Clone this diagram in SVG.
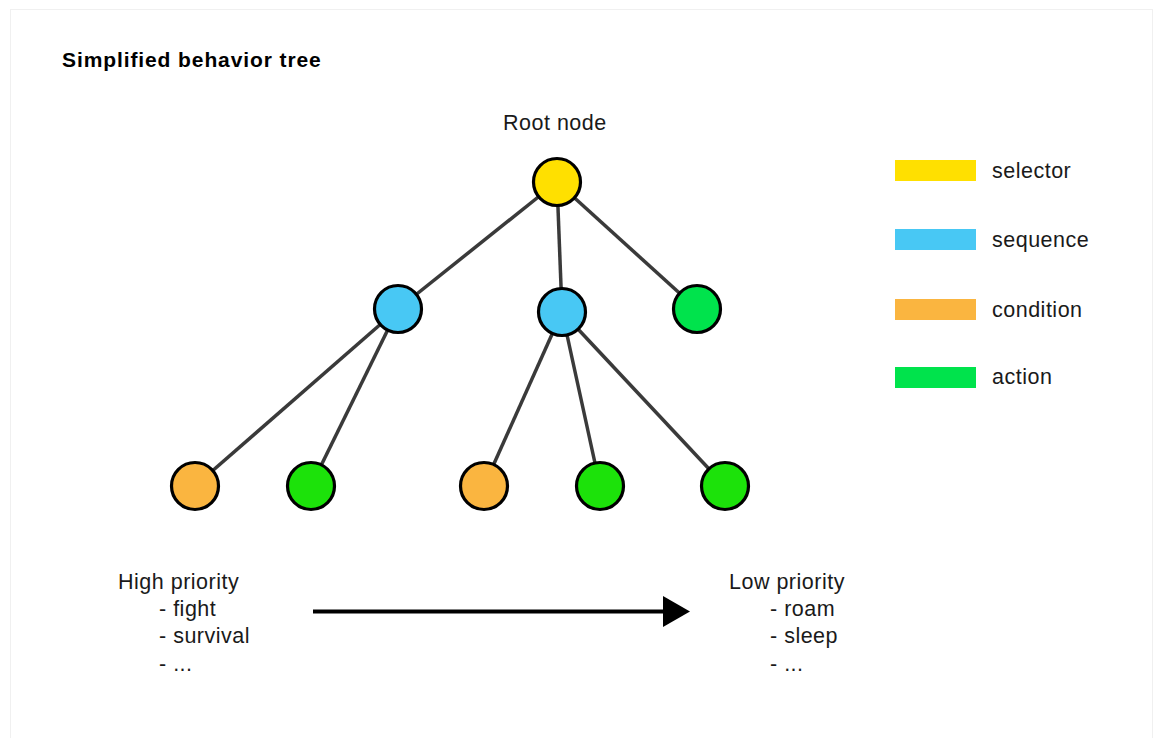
<svg xmlns="http://www.w3.org/2000/svg" width="1154" height="738" viewBox="0 0 1154 738">
<style>
text{font-family:"Liberation Sans",Arial,sans-serif;fill:#1a1a1a;font-size:21.5px;letter-spacing:0.5px}
.title{font-weight:bold;font-size:21px;letter-spacing:0.9px;fill:#000}
.n circle{stroke:#000;stroke-width:3.2}
.edge{stroke:#3a3a3a;stroke-width:3.5;fill:none}
.sel{fill:#ffe000}.seq{fill:#48c8f4}.cond{fill:#fab540}.act{fill:#00e34c}.act2{fill:#1ce20a}
</style>
<defs>
<marker id="ah" markerWidth="8" markerHeight="8" refX="0" refY="4" orient="auto" markerUnits="strokeWidth">
<path d="M0,0 L7,4 L0,8 Z" fill="#000"/>
</marker>
</defs>
<rect x="0" y="0" width="1154" height="738" fill="#fff"/>
<rect x="10.5" y="9.5" width="1142" height="740" fill="#fff" stroke="#f0f0f0" stroke-width="1"/>
<text class="title" x="62" y="67">Simplified behavior tree</text>
<text x="503" y="130">Root node</text>
<g id="connectors">
<line class="edge" x1="557" y1="182" x2="398" y2="309"/>
<line class="edge" x1="557" y1="182" x2="562" y2="312"/>
<line class="edge" x1="557" y1="182" x2="697" y2="309"/>
<line class="edge" x1="398" y1="309" x2="195" y2="486"/>
<line class="edge" x1="398" y1="309" x2="311" y2="486"/>
<line class="edge" x1="562" y1="312" x2="484" y2="486"/>
<line class="edge" x1="562" y1="312" x2="600" y2="486"/>
<line class="edge" x1="562" y1="312" x2="725" y2="486"/>
<line x1="313" y1="611.5" x2="663" y2="611.5" stroke="#000" stroke-width="4"/>
<polygon points="663,596 690,611.5 663,627" fill="#000"/>
</g>
<g id="root" class="n"><circle class="sel" cx="557" cy="182" r="23.5"/></g>
<g id="seq1" class="n"><circle class="seq" cx="398" cy="309" r="23.5"/></g>
<g id="seq2" class="n"><circle class="seq" cx="562" cy="312" r="23.5"/></g>
<g id="act-top" class="n"><circle class="act" cx="697" cy="309" r="23.5"/></g>
<g id="cond1" class="n"><circle class="cond" cx="195" cy="486" r="23.5"/></g>
<g id="act1" class="n"><circle class="act2" cx="311" cy="486" r="23.5"/></g>
<g id="cond2" class="n"><circle class="cond" cx="484" cy="486" r="23.5"/></g>
<g id="act2" class="n"><circle class="act2" cx="600" cy="486" r="23.5"/></g>
<g id="act3" class="n"><circle class="act2" cx="725" cy="486" r="23.5"/></g>
<g id="legend">
<rect class="sel" x="895" y="160" width="81" height="21"/>
<text x="992" y="178">selector</text>
<rect class="seq" x="895" y="229" width="81" height="21"/>
<text x="992" y="247">sequence</text>
<rect class="cond" x="895" y="299" width="81" height="21"/>
<text x="992" y="317">condition</text>
<rect class="act" x="895" y="367" width="81" height="21"/>
<text x="992" y="384">action</text>
</g>
<g id="high">
<text x="118" y="589">High priority</text>
<text x="159" y="616">- fight</text>
<text x="159" y="643">- survival</text>
<text x="159" y="671">- ...</text>
</g>
<g id="low">
<text x="729" y="589">Low priority</text>
<text x="770" y="616">- roam</text>
<text x="770" y="643">- sleep</text>
<text x="770" y="671">- ...</text>
</g>
</svg>
